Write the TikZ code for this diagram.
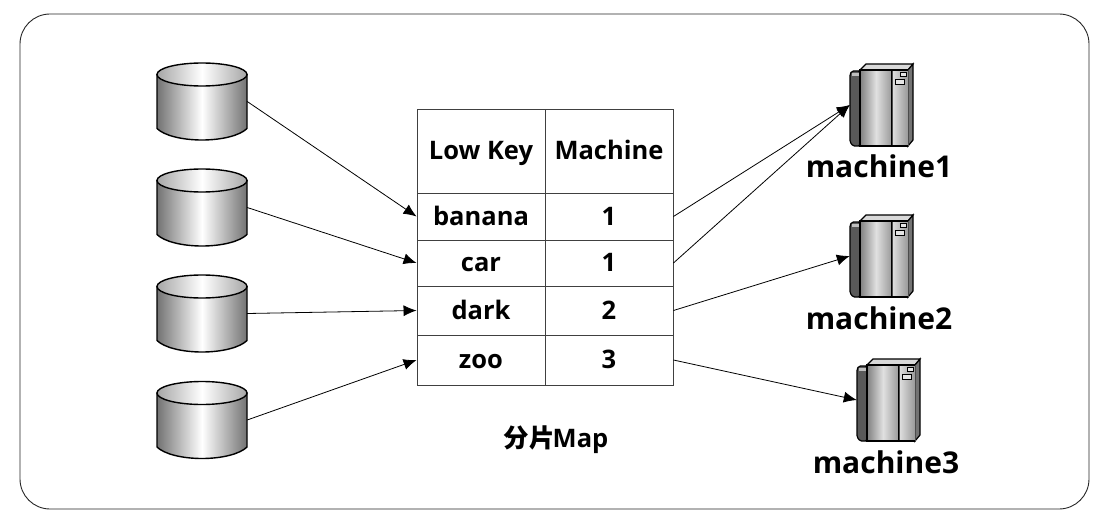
\documentclass[tikz,border=0pt]{standalone}
\usepackage{fontspec}
\setmainfont{Open Sans}
\newfontfamily\cjkfont{Noto Sans CJK SC}
\usepackage{tikz}
\usetikzlibrary{arrows.meta}

\tikzset{
  link/.style={line width=0.8, -{Latex[length=13pt,width=11pt]}},
  cell/.style={draw=black!75, line width=0.9, minimum width=128, inner sep=0, text height=21, text depth=3.5, font=\bfseries\fontsize{25.5}{25.5}\selectfont},
  caption/.style={font=\bfseries\fontsize{30}{30}\selectfont},
  pics/dbcyl/.style={code={
    \node[minimum width=90, minimum height=77, inner sep=0] (-box) at (0,0) {};
    \draw[line width=1.4, left color=black!55, right color=black!55, middle color=white]
      (-45,-27) -- (-45,27) .. controls (-38,34) and (-20,38.5) .. (0,38.5)
      .. controls (20,38.5) and (38,34) .. (45,27) -- (45,-27) -- cycle;
    \draw[line width=1.4, left color=black!35, right color=black!35, middle color=white]
      (0,-27) ellipse [x radius=45, y radius=11.5];
  }},
  pics/server/.style={code={
    \node[minimum width=64, minimum height=83, inner sep=0] (-box) at (32,41) {};
    % back panel
    \draw[line width=1.2, rounded corners=1.5, fill=black!65] (10,7) -- (2,7) -- (0,10) -- (0,78) -- (3,82) -- (10,82) -- cycle;
    \fill[black!25] (2,9) rectangle (10,12);
    % top and side
    \draw[line width=1.2, fill=black!15] (10,6) -- (16,0) -- (63,0) -- (58,6) -- cycle;
    \draw[line width=1.2, fill=black!55] (58,6) -- (63,0) -- (63,76) -- (58,82) -- cycle;
    % front
    \draw[line width=1.2, left color=black!50, right color=black!40, middle color=black!12] (10,6) rectangle (42,82);
    \draw[line width=0.8, black!70, left color=black!12, right color=black!40] (42,6) rectangle (58,82);
    \draw[line width=1.2] (10,6) -- (58,6) (10,82) -- (58,82);
    \draw[line width=0.7, fill=black!10] (45,15) rectangle (54,20);
    \draw[line width=0.7, fill=black!10] (50,8) rectangle (56,12);
  }}
}

\begin{document}
\begin{tikzpicture}[x=1pt,y=-1pt]

\useasboundingbox (0,0) rectangle (1103,524);

% outer frame
\draw[line width=0.9, black!85, rounded corners=30] (20,14) rectangle (1089,509);

% disks
\pic (db1) at (202,101.5) {dbcyl};
\pic (db2) at (202,207.5) {dbcyl};
\pic (db3) at (202,313.5) {dbcyl};
\pic (db4) at (202,420) {dbcyl};

% map table
\node[cell, minimum height=84] (headkey) at (481,151) {Low Key};
\node[cell, minimum height=84] (headmachine) at (609,151) {Machine};
\node[cell, minimum height=47] (bananakey) at (481,216.5) {banana};
\node[cell, minimum height=47] (bananamachine) at (609,216.5) {1};
\node[cell, minimum height=46] (carkey) at (481,263) {car};
\node[cell, minimum height=46] (carmachine) at (609,263) {1};
\node[cell, minimum height=49] (darkkey) at (481,310.5) {dark};
\node[cell, minimum height=49] (darkmachine) at (609,310.5) {2};
\node[cell, minimum height=50] (zookey) at (481,360) {zoo};
\node[cell, minimum height=50] (zoomachine) at (609,360) {3};
\node[font=\bfseries\fontsize{25.5}{25.5}\selectfont] (mapname) at (556,440) {{\cjkfont\bfseries 分片}\kern-2pt Map};

% machines
\pic (server1) at (850,64) {server};
\pic (server2) at (850,215) {server};
\pic (server3) at (857,359) {server};
\node[caption] (name1) at (879,166) {machine1};
\node[caption] (name2) at (879,318) {machine2};
\node[caption] (name3) at (886,462) {machine3};

% arrows
\draw[link] (db1-box.east) -- (bananakey.west);
\draw[link] (db2-box.east) -- (carkey.west);
\draw[link] (db3-box.east) -- (darkkey.west);
\draw[link] (db4-box.east) -- (zookey.west);
\draw[link] (bananamachine.east) -- (server1-box.west);
\draw[link] (carmachine.east) -- (server1-box.west);
\draw[link] (darkmachine.east) -- (server2-box.west);
\draw[link] (zoomachine.east) -- (server3-box.west);

\end{tikzpicture}
\end{document}
